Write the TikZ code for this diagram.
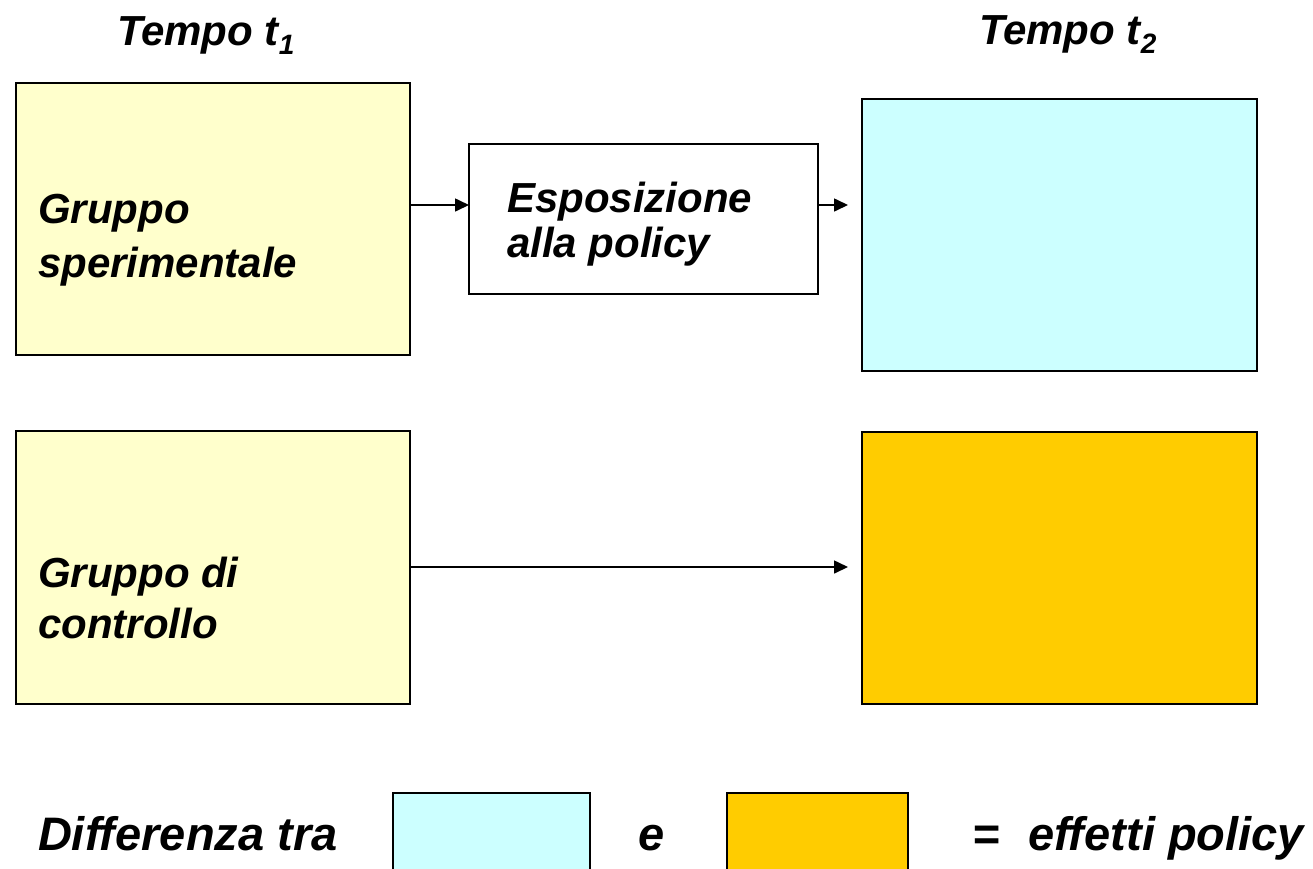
\documentclass[tikz,border=0pt]{standalone}
\usepackage{fontspec}
\setmainfont[Ligatures=NoCommon]{Liberation Sans}
\usetikzlibrary{arrows.meta}
\definecolor{ylw}{HTML}{FFFFCC}
\definecolor{cyn}{HTML}{CCFFFF}
\definecolor{org}{HTML}{FFCC00}
\begin{document}
\begin{tikzpicture}[x=1pt,y=-1pt,
  box/.style={draw=black, line width=1.5pt, inner sep=0pt, outer sep=0pt, anchor=north west},
  lbl/.style={inner sep=0pt, outer sep=0pt, anchor=base west, align=left},
  big/.style={inner sep=0pt, outer sep=0pt, anchor=base west, font=\fontsize{47}{47}\selectfont\bfseries\itshape},
  conn/.style={line width=1.6pt, -{Triangle[length=14pt,width=13pt]}}]
\clip (0,0) rectangle (1313,868);
\fill[white] (0,0) rectangle (1313,868);
% boxes
\node[box, fill=ylw, minimum width=394pt, minimum height=272pt] (g1) at (16,83) {};
\node[box, fill=white, minimum width=349pt, minimum height=150pt] (expo) at (469,144) {};
\node[box, fill=cyn, minimum width=395pt, minimum height=272pt] (c1) at (862,99) {};
\node[box, fill=ylw, minimum width=394pt, minimum height=273pt] (g2) at (16,431) {};
\node[box, fill=org, minimum width=395pt, minimum height=272pt] (o1) at (862,432) {};
\node[box, fill=cyn, minimum width=197pt, minimum height=110pt] (bc) at (393,793) {};
\node[box, fill=org, minimum width=181pt, minimum height=110pt] (bo) at (727,793) {};
% texts
\node[lbl, font=\fontsize{42}{42}\selectfont\bfseries\itshape] (tt1) at (117,45) {Tempo t\raisebox{-9pt}{\fontsize{28}{28}\selectfont 1}};
\node[lbl, font=\fontsize{42}{42}\selectfont\bfseries\itshape] (tt2) at (979,44) {Tempo t\raisebox{-9pt}{\fontsize{28}{28}\selectfont 2}};
\node[lbl, font=\fontsize{42}{54}\selectfont\bfseries\itshape] (g1t) at (38,277) {Gruppo\\sperimentale};
\node[lbl, font=\fontsize{42}{45}\selectfont\bfseries\itshape] (ext) at (507,257) {Esposizione\\alla policy};
\node[lbl, font=\fontsize{42}{51}\selectfont\bfseries\itshape] (g2t) at (38,638) {Gruppo di\\controllo};
\node[big] (dt) at (38,850) {Differenza tra};
\node[big] (et) at (638,850) {e};
\node[big] (eq) at (972,850) {=};
\node[big] (ef) at (1028,850) {effetti policy};
% connectors
\coordinate (r1) at (0,205);
\coordinate (r2) at (0,567);
\draw[conn] (g1.east |- r1) -- (expo.west |- r1);
\draw[conn, shorten >=14pt] (expo.east |- r1) -- (c1.west |- r1);
\draw[conn, shorten >=14pt] (g2.east |- r2) -- (o1.west |- r2);
\end{tikzpicture}
\end{document}
